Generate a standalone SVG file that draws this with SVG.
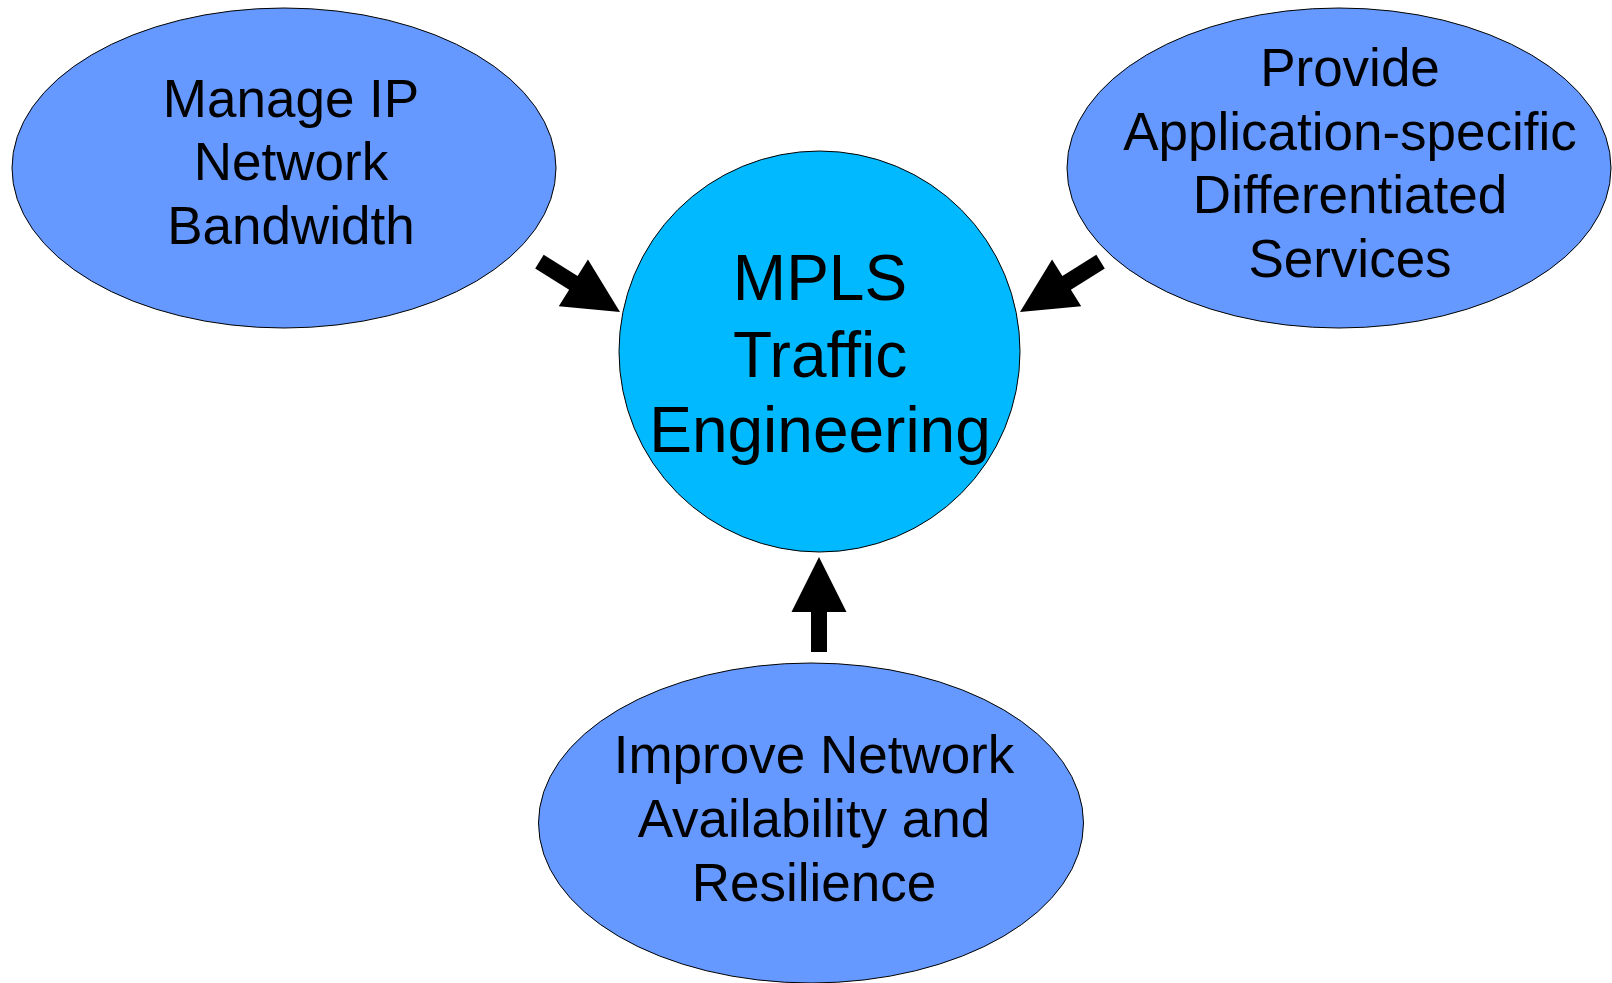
<svg xmlns="http://www.w3.org/2000/svg" width="1612" height="983" viewBox="0 0 1612 983">
<defs>
<style>
.goal{fill:#6699ff;stroke:#000;stroke-width:1}
.core{fill:#00b9ff;stroke:#000;stroke-width:1}
.t{font-family:"Liberation Sans",Arial,sans-serif;font-size:53px;fill:#000;text-anchor:middle}
.tc{font-family:"Liberation Sans",Arial,sans-serif;font-size:64px;fill:#000;text-anchor:middle}
.arr{fill:#000}
</style>
<polygon id="arrowShape" points="0,0 -55,-27.5 -55,-8 -95,-8 -95,8 -55,8 -55,27.5"/>
</defs>
<rect width="1612" height="983" fill="#fff"/>
<g id="bandwidth">
<ellipse class="goal" cx="284" cy="168" rx="272" ry="160"/>
<text class="t" x="291" y="117">Manage IP</text>
<text class="t" x="291" y="180">Network</text>
<text class="t" x="291" y="244">Bandwidth</text>
</g>
<g id="services">
<ellipse class="goal" cx="1339" cy="168" rx="272" ry="160"/>
<text class="t" x="1350" y="86">Provide</text>
<text class="t" x="1350" y="150">Application-specific</text>
<text class="t" x="1350" y="213">Differentiated</text>
<text class="t" x="1350" y="277">Services</text>
</g>
<g id="resilience">
<ellipse class="goal" cx="811" cy="823" rx="272.5" ry="160"/>
<text class="t" x="814" y="773">Improve Network</text>
<text class="t" x="814" y="837">Availability and</text>
<text class="t" x="814" y="901">Resilience</text>
</g>
<g id="mpls">
<circle class="core" cx="819.5" cy="351.5" r="200.5"/>
<text class="tc" x="820" y="300">MPLS</text>
<text class="tc" x="820" y="377">Traffic</text>
<text class="tc" x="820" y="452">Engineering</text>
</g>
<g id="connectors" class="arr">
<use href="#arrowShape" transform="translate(620,312) rotate(32)"/>
<use href="#arrowShape" transform="translate(1020,312) rotate(148)"/>
<use href="#arrowShape" transform="translate(819,557) rotate(-90)"/>
</g>
</svg>
